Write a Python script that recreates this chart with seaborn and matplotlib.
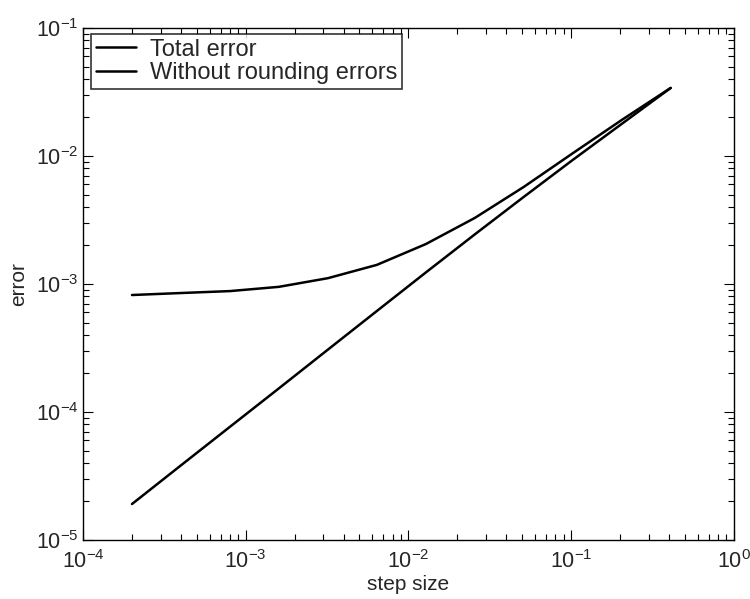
import matplotlib
matplotlib.use('Agg')
import matplotlib.pyplot as plt
import seaborn as sns
import pandas as pd

# step sizes (doubling) and errors
step = [2e-4, 4e-4, 8e-4, 1.6e-3, 3.2e-3, 6.4e-3, 1.28e-2, 2.56e-2, 5.12e-2, 0.1024, 0.2048, 0.4096]
total_error = [8.2e-4, 8.5e-4, 8.8e-4, 9.5e-4, 1.11e-3, 1.41e-3, 2.05e-3, 3.28e-3, 5.73e-3, 0.0105, 0.0191, 0.0340]
trunc_error = [1.91e-5, 3.83e-5, 7.66e-5, 1.53e-4, 3.07e-4, 6.15e-4, 1.23e-3, 2.44e-3, 4.79e-3, 9.31e-3, 0.0178, 0.0340]

sns.set_style('ticks')
plt.rcParams['font.family'] = ['Liberation Sans', 'DejaVu Sans']
plt.rcParams['mathtext.fontset'] = 'custom'
plt.rcParams['mathtext.rm'] = 'Liberation Sans'

df = pd.DataFrame({'step': step, 'Total error': total_error,
                   'Without rounding errors': trunc_error})

fig = plt.figure(figsize=(7.5, 5.99), dpi=100)
ax = fig.add_axes([0.1107, 0.0985, 0.8676, 0.8548])

sns.lineplot(data=df, x='step', y='Total error', ax=ax, color='black',
             linewidth=1.8, label='Total error')
sns.lineplot(data=df, x='step', y='Without rounding errors', ax=ax, color='black',
             linewidth=1.8, label='Without rounding errors')

ax.set_xscale('log')
ax.set_yscale('log')
ax.set_xlim(1e-4, 1e0)
ax.set_ylim(1e-5, 1e-1)
ax.set_xlabel('step size', fontsize=15, labelpad=2)
ax.set_ylabel('error', fontsize=15, labelpad=6)

ax.tick_params(which='both', direction='in', top=True, right=True, labelsize=15.5, color='black')
ax.tick_params(axis='x', which='major', pad=7)
ax.tick_params(axis='y', which='major', pad=3)
ax.tick_params(which='major', length=7, width=0.8)
ax.tick_params(which='minor', length=4, width=0.8)
for s in ax.spines.values():
    s.set_color('black')
    s.set_linewidth(1.0)

leg = ax.legend(loc='upper left', bbox_to_anchor=(8 / 650, 1 - 6 / 512), fontsize=17,
                frameon=True, fancybox=False, borderaxespad=0.0, handlelength=1.7,
                handletextpad=0.6, borderpad=0.2, labelspacing=0.05)
leg.get_frame().set_edgecolor('black')
leg.get_frame().set_linewidth(1.2)

plt.savefig('out.png', dpi=100)
